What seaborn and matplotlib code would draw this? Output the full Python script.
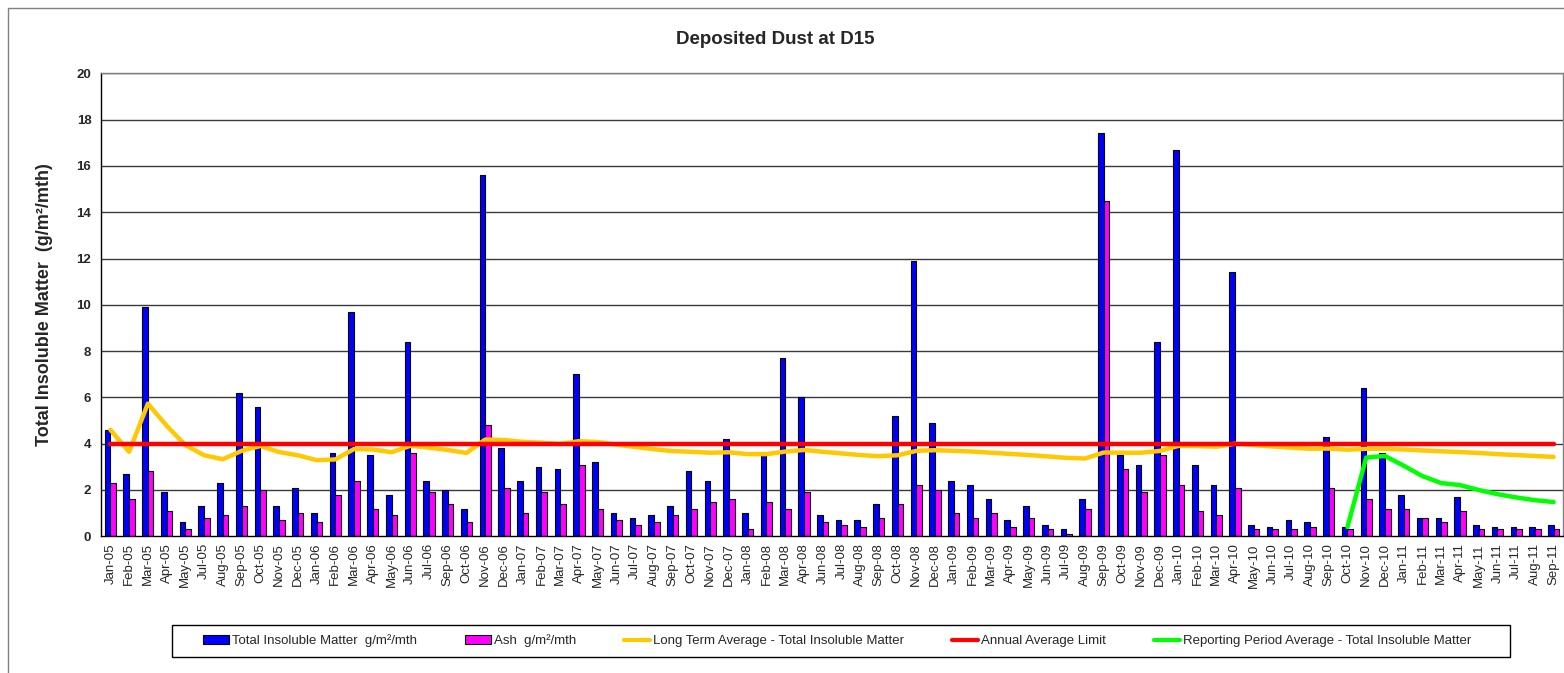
"""
Deposited dust at D15: monthly total insoluble matter and ash,
with long-term, reporting-period averages and the annual limit.
"""

import numpy as np
import pandas as pd
import matplotlib
matplotlib.use("Agg")
import matplotlib.pyplot as plt
from matplotlib.patches import Patch, Rectangle
from matplotlib.lines import Line2D
import seaborn as sns

# ── Data ──────────────────────────────────────────────────────────────────────
MONTHS = [
    "Jan-05", "Feb-05", "Mar-05", "Apr-05", "May-05", "Jul-05", "Aug-05", "Sep-05",
    "Oct-05", "Nov-05", "Dec-05",
    "Jan-06", "Feb-06", "Mar-06", "Apr-06", "May-06", "Jun-06", "Jul-06", "Sep-06",
    "Oct-06", "Nov-06", "Dec-06",
    "Jan-07", "Feb-07", "Mar-07", "Apr-07", "May-07", "Jun-07", "Jul-07", "Aug-07",
    "Sep-07", "Oct-07", "Nov-07", "Dec-07",
    "Jan-08", "Feb-08", "Mar-08", "Apr-08", "Jun-08", "Jul-08", "Aug-08", "Sep-08",
    "Oct-08", "Nov-08", "Dec-08",
    "Jan-09", "Feb-09", "Mar-09", "Apr-09", "May-09", "Jun-09", "Jul-09", "Aug-09",
    "Sep-09", "Oct-09", "Nov-09", "Dec-09",
    "Jan-10", "Feb-10", "Mar-10", "Apr-10", "May-10", "Jun-10", "Jul-10", "Aug-10",
    "Sep-10", "Oct-10", "Nov-10", "Dec-10",
    "Jan-11", "Feb-11", "Mar-11", "Apr-11", "May-11", "Jun-11", "Jul-11", "Aug-11",
    "Sep-11",
]

TIM = [
    4.6, 2.7, 9.9, 1.9, 0.6, 1.3, 2.3, 6.2, 5.6, 1.3, 2.1,
    1.0, 3.6, 9.7, 3.5, 1.8, 8.4, 2.4, 2.0, 1.2, 15.6, 3.8,
    2.4, 3.0, 2.9, 7.0, 3.2, 1.0, 0.8, 0.9, 1.3, 2.8, 2.4, 4.2,
    1.0, 3.5, 7.7, 6.0, 0.9, 0.7, 0.7, 1.4, 5.2, 11.9, 4.9,
    2.4, 2.2, 1.6, 0.7, 1.3, 0.5, 0.3, 1.6, 17.4, 3.5, 3.1, 8.4,
    16.7, 3.1, 2.2, 11.4, 0.5, 0.4, 0.7, 0.6, 4.3, 0.4, 6.4, 3.6,
    1.8, 0.8, 0.8, 1.7, 0.5, 0.4, 0.4, 0.4, 0.5,
]

ASH = [
    2.3, 1.6, 2.8, 1.1, 0.3, 0.8, 0.9, 1.3, 2.0, 0.7, 1.0,
    0.6, 1.8, 2.4, 1.2, 0.9, 3.6, 1.9, 1.4, 0.6, 4.8, 2.1,
    1.0, 1.9, 1.4, 3.1, 1.2, 0.7, 0.5, 0.6, 0.9, 1.2, 1.5, 1.6,
    0.3, 1.5, 1.2, 1.9, 0.6, 0.5, 0.4, 0.8, 1.4, 2.2, 2.0,
    1.0, 0.8, 1.0, 0.4, 0.8, 0.3, 0.1, 1.2, 14.5, 2.9, 1.9, 3.5,
    2.2, 1.1, 0.9, 2.1, 0.3, 0.3, 0.3, 0.4, 2.1, 0.3, 1.6, 1.2,
    1.2, 0.8, 0.6, 1.1, 0.3, 0.3, 0.3, 0.3, 0.3,
]

LONG_TERM_AVG = [
    4.60, 3.65, 5.73, 4.78, 3.94, 3.50, 3.33, 3.69, 3.90, 3.64, 3.50,
    3.29, 3.32, 3.77, 3.75, 3.63, 3.91, 3.83, 3.73, 3.60, 4.18, 4.16,
    4.08, 4.04, 3.99, 4.11, 4.07, 3.96, 3.86, 3.76, 3.68, 3.65, 3.61, 3.63,
    3.55, 3.55, 3.66, 3.73, 3.65, 3.58, 3.51, 3.46, 3.50, 3.69, 3.72,
    3.69, 3.66, 3.61, 3.56, 3.51, 3.45, 3.39, 3.36, 3.62, 3.61, 3.61, 3.69,
    3.91, 3.90, 3.87, 4.00, 3.94, 3.88, 3.83, 3.78, 3.79, 3.74, 3.78, 3.78,
    3.75, 3.71, 3.67, 3.64, 3.60, 3.55, 3.51, 3.47, 3.43,
]

ANNUAL_LIMIT = [4.0] * len(MONTHS)

REPORTING_AVG = [np.nan] * 66 + [
    0.40, 3.40, 3.47, 3.05, 2.60, 2.30, 2.21, 2.00, 1.82, 1.68, 1.56, 1.48,
]

BAR_LABEL_TIM = "Total Insoluble Matter  g/m²/mth"
BAR_LABEL_ASH = "Ash  g/m²/mth"

# ── Figure ────────────────────────────────────────────────────────────────────
sns.set_style("white")
plt.rcParams["font.family"] = ["Liberation Sans", "DejaVu Sans"]

W, H = 1564, 673
fig = plt.figure(figsize=(W / 100, H / 100), dpi=100)
ax = fig.add_axes([101 / W, 1 - 536.3 / H, 1462 / W, (536.3 - 73.3) / H])

# outer chart border (top and left only visible)
fig.add_artist(Rectangle((8 / W, -0.1), 1.2, 1.1 - 8 / H,
                         transform=fig.transFigure, fill=False,
                         edgecolor="#808080", lw=1))

df = pd.DataFrame({
    "month": MONTHS * 2,
    "value": TIM + ASH,
    "series": [BAR_LABEL_TIM] * len(MONTHS) + [BAR_LABEL_ASH] * len(MONTHS),
})

for y in range(2, 21, 2):
    ax.axhline(y, color="#3a3a3a", lw=1, zorder=0)

sns.barplot(
    data=df, x="month", y="value", hue="series", order=MONTHS,
    palette={BAR_LABEL_TIM: "#0000FF", BAR_LABEL_ASH: "#FF00FF"},
    width=0.6, edgecolor="black", linewidth=0.8, saturation=1,
    legend=False, ax=ax, zorder=2,
)

pos = np.arange(len(MONTHS))
sns.lineplot(x=pos, y=LONG_TERM_AVG, color="#FFC800", lw=3.2, ax=ax,
             sort=False, estimator=None, zorder=3)
sns.lineplot(x=pos, y=ANNUAL_LIMIT, color="#FF0000", lw=3.2, ax=ax,
             sort=False, estimator=None, zorder=4)
rep = pd.Series(REPORTING_AVG)
sns.lineplot(x=pos[rep.notna()], y=rep[rep.notna()].values, color="#00FF00",
             lw=3.2, ax=ax, sort=False, estimator=None, zorder=5)

ax.set_xlim(-0.5, len(MONTHS) - 0.5)
ax.set_ylim(0, 20)
ax.set_yticks(range(0, 21, 2))
ax.set_yticklabels([str(v) for v in range(0, 21, 2)], fontsize=9.5, fontweight="bold")
ax.tick_params(axis="y", direction="out", length=4, width=1, color="black", pad=3)

# category labels at centres, tick marks at boundaries
ax.set_xticks(np.arange(len(MONTHS) + 1) - 0.5)
ax.set_xticklabels([])
ax.tick_params(axis="x", which="major", direction="out", length=4, width=1, color="black")
ax.set_xticks(pos, minor=True)
ax.set_xticklabels(MONTHS, minor=True, rotation=90, fontsize=9.5)
ax.tick_params(axis="x", which="minor", length=0, pad=5)

ax.set_xlabel("")
ax.set_ylabel("")
for side in ["left", "bottom"]:
    ax.spines[side].set_color("black")
    ax.spines[side].set_linewidth(1)
for side in ["top", "right"]:
    ax.spines[side].set_color("#808080")
    ax.spines[side].set_linewidth(1)

fig.text(775 / W, 1 - 40 / H, "Deposited Dust at D15",
         ha="center", va="center", fontsize=13.5, fontweight="bold")
fig.text(45 / W, 1 - 305 / H, "Total Insoluble Matter  (g/m²/mth)",
         ha="center", va="center", rotation=90, fontsize=13, fontweight="bold")

# legend box drawn separately so the entries can sit inset like the original
fig.add_artist(Rectangle((172 / W, 1 - 657 / H), 1338 / W, 32 / H,
                         transform=fig.transFigure, fill=False,
                         edgecolor="black", lw=1))
handles = [
    Patch(facecolor="#0000FF", edgecolor="black", lw=0.8, label=BAR_LABEL_TIM),
    Patch(facecolor="#FF00FF", edgecolor="black", lw=0.8, label=BAR_LABEL_ASH),
    Line2D([], [], color="#FFC800", lw=3, label="Long Term Average - Total Insoluble Matter"),
    Line2D([], [], color="#FF0000", lw=3, label="Annual Average Limit"),
    Line2D([], [], color="#00FF00", lw=3, label="Reporting Period Average - Total Insoluble Matter"),
]
fig.legend(
    handles=handles, ncol=5, mode="expand",
    bbox_to_anchor=(203 / W, 1 - 657 / H, 1268 / W, 32 / H),
    loc="center", fontsize=9.5, frameon=False,
    handlelength=2.0, handleheight=0.7, handletextpad=0.2,
    borderaxespad=0, borderpad=0,
)

plt.savefig("out.png", dpi=100)
plt.close()
